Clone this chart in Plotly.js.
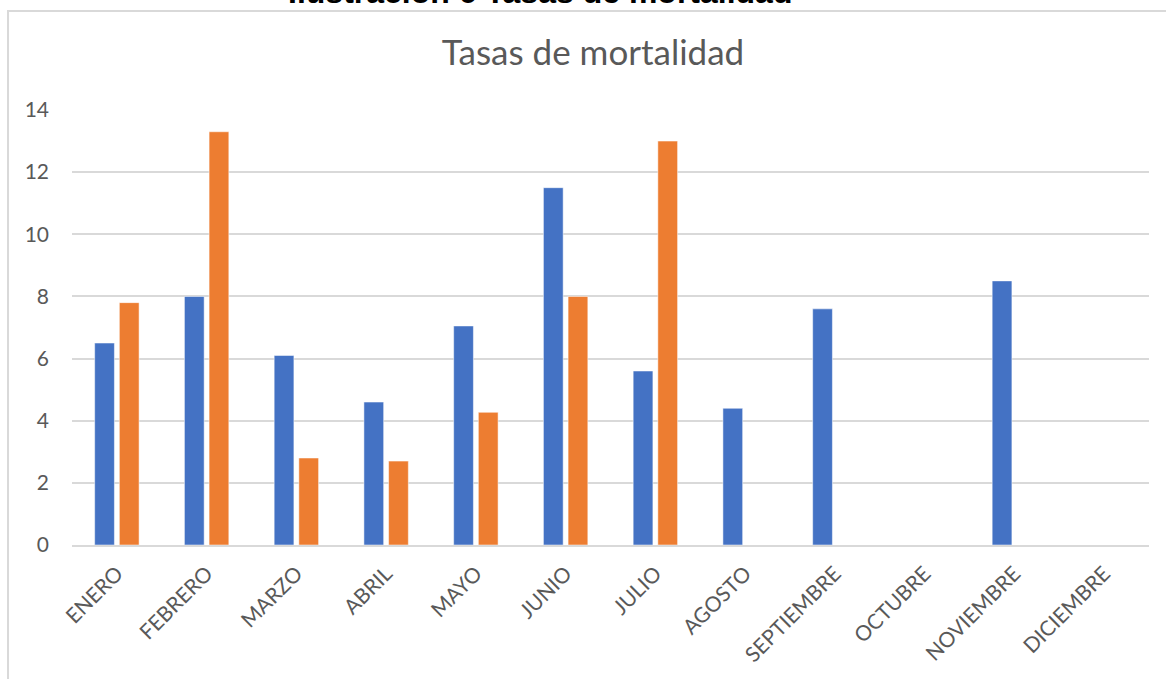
<!DOCTYPE html>
<html>
<head>
<meta charset="utf-8">
<script src="https://cdn.plot.ly/plotly-3.0.1.min.js"></script>
<style>
html,body{margin:0;padding:0;background:#fff;}
#chart{width:1166px;height:679px;}
</style>
</head>
<body>
<div id="chart"></div>
<script>
const months = ["ENERO","FEBRERO","MARZO","ABRIL","MAYO","JUNIO","JULIO","AGOSTO","SEPTIEMBRE","OCTUBRE","NOVIEMBRE","DICIEMBRE"];
const serie1 = [6.5, 8.0, 6.1, 4.6, 7.05, 11.5, 5.6, 4.4, 7.6, null, 8.5, null];
const serie2 = [7.8, 13.3, 2.8, 2.7, 4.27, 8.0, 13.0, null, null, null, null, null];
const yTicks = [0, 2, 4, 6, 8, 10, 12, 14];

const font = "Lato, 'Open Sans', sans-serif";
const traces = [
  {type:'bar', name:'Serie 1', x:months, y:serie1,
   marker:{color:'#4472C4', line:{color:'rgba(255,255,255,0.5)', width:1}}},
  {type:'bar', name:'Serie 2', x:months, y:serie2,
   marker:{color:'#ED7D31', line:{color:'rgba(255,255,255,0.5)', width:1}}}
];
const layout = {
  width:1166, height:679,
  margin:{l:72, r:17, t:110, b:134, pad:0},
  paper_bgcolor:'#ffffff', plot_bgcolor:'#ffffff',
  showlegend:false,
  barmode:'group', bargap:0.45, bargroupgap:0.2,
  font:{family:font, color:'#595959'},
  title:{text:'Tasas de mortalidad', font:{family:font, size:35, color:'#595959'},
         xref:'container', x:0.5086, xanchor:'center', yref:'container', y:0.922, yanchor:'middle'},
  xaxis:{type:'category', tickangle:-45, tickfont:{family:font, size:21, color:'#595959'},
         showgrid:false, showline:true, linecolor:'#d9d9d9', linewidth:2, ticks:'', zeroline:false,
         ticklabelstandoff:6, automargin:false},
  yaxis:{range:[0,14], tickvals:yTicks, ticktext:yTicks.map(String), tickfont:{family:font, size:21, color:'#595959'},
         showgrid:true, gridcolor:'#d9d9d9', gridwidth:2, zeroline:false, showline:false, ticks:'',
         ticklabelstandoff:22, automargin:false, fixedrange:true},
  shapes:[
    {type:'rect', xref:'paper', yref:'paper', x0:-0.0594, x1:1.2, y0:-0.6, y1:1.2276,
     line:{color:'#d9d9d9', width:2}, fillcolor:'rgba(0,0,0,0)', layer:'below'}
  ],
  annotations:[
    {text:'<b>Ilustración 6 Tasas de mortalidad</b>', xref:'paper', yref:'paper', x:0.435, y:1.2253,
     xanchor:'center', yanchor:'bottom', showarrow:false,
     font:{family:'Arial, Liberation Sans, sans-serif', size:32, color:'#000000'}}
  ]
};
Plotly.newPlot('chart', traces, layout, {displayModeBar:false, staticPlot:true});
</script>
</body>
</html>
